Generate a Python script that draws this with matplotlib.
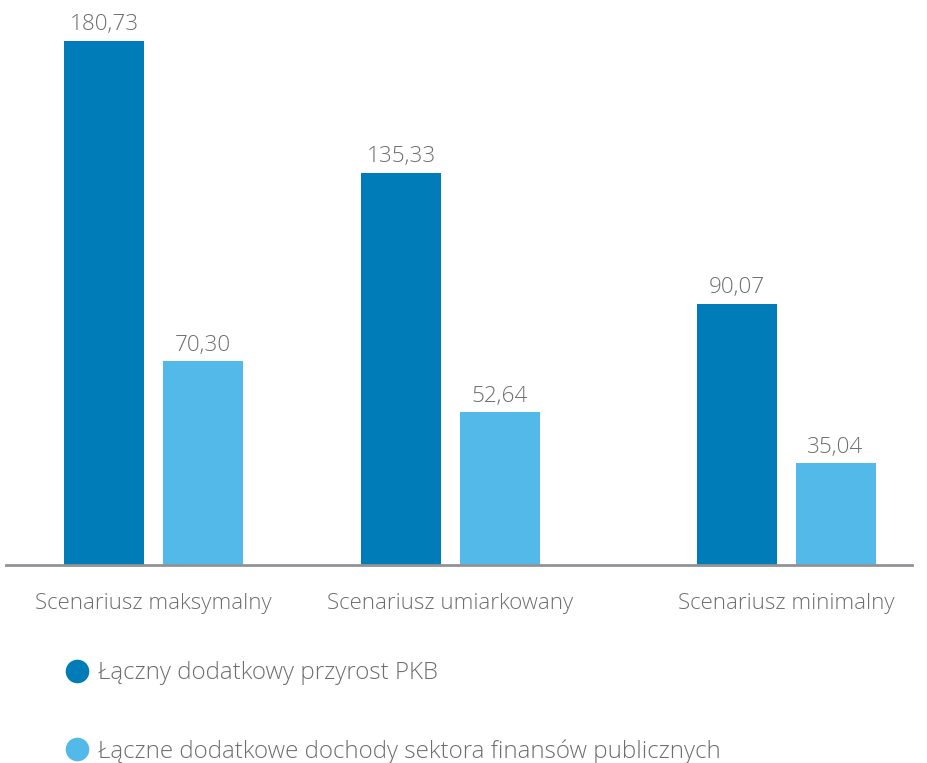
import matplotlib.pyplot as plt
from matplotlib.lines import Line2D

# Dane
scenariusze = ['Scenariusz maksymalny', 'Scenariusz umiarkowany', 'Scenariusz minimalny']
przyrost_pkb = [180.73, 135.33, 90.07]
dochody_sfp = [70.30, 52.64, 35.04]
etykiety_serii = ['Łączny dodatkowy przyrost PKB',
                  'Łączne dodatkowe dochody sektora finansów publicznych']

kolor_ciemny = '#007cb8'
kolor_jasny = '#53b9e9'
kolor_tekstu = '#6d6e71'

plt.rcParams['font.family'] = ['Open Sans', 'DejaVu Sans']

fig = plt.figure(figsize=(9.27, 7.63), dpi=100)
W, H = 927, 763
# os: od x=6 do 912 px, od y=0 do 565 px (od góry)
ax = fig.add_axes([6 / W, (H - 565) / H, 906 / W, 565 / H])

# pozycje grup (w pikselach osi)
pozycje = [153.5 - 6, 450.5 - 6, 786 - 6]
przesun = 49.5
szer = 80

for i, nazwa in enumerate(scenariusze):
    b1 = ax.bar(pozycje[i] - przesun, przyrost_pkb[i], width=szer, color=kolor_ciemny)
    b2 = ax.bar(pozycje[i] + przesun, dochody_sfp[i], width=szer, color=kolor_jasny)
    for b, v in [(b1[0], przyrost_pkb[i]), (b2[0], dochody_sfp[i])]:
        ax.annotate(f'{v:.2f}'.replace('.', ','),
                    (b.get_x() + b.get_width() / 2, v),
                    xytext=(0, 4), textcoords='offset points',
                    ha='center', va='bottom', fontsize=16.2,
                    color=kolor_tekstu, fontweight='light')

ax.set_xlim(0, 906)
ax.set_ylim(0, 565 / 2.9)
ax.set_xticks(pozycje)
ax.set_xticklabels(scenariusze, fontsize=16, color=kolor_tekstu, fontweight='light')
ax.tick_params(axis='x', length=0, pad=20)
ax.set_yticks([])
for s in ['top', 'right', 'left']:
    ax.spines[s].set_visible(False)
ax.spines['bottom'].set_color('#909396')
ax.spines['bottom'].set_linewidth(2)

uchwyty = [Line2D([], [], marker='o', linestyle='none', markersize=17,
                  markerfacecolor=kolor_ciemny, markeredgecolor='none'),
           Line2D([], [], marker='o', linestyle='none', markersize=17,
                  markerfacecolor=kolor_jasny, markeredgecolor='none')]
leg = fig.legend(uchwyty, etykiety_serii, loc='upper left',
                 bbox_to_anchor=(62.5 / W, 1 - 661 / H), frameon=False,
                 fontsize=17.4, labelspacing=2.24, handletextpad=0.27,
                 handlelength=1.2, borderpad=0, borderaxespad=0)
for t in leg.get_texts():
    t.set_color(kolor_tekstu)
    t.set_fontweight('light')

fig.savefig('out.png', dpi=100)
